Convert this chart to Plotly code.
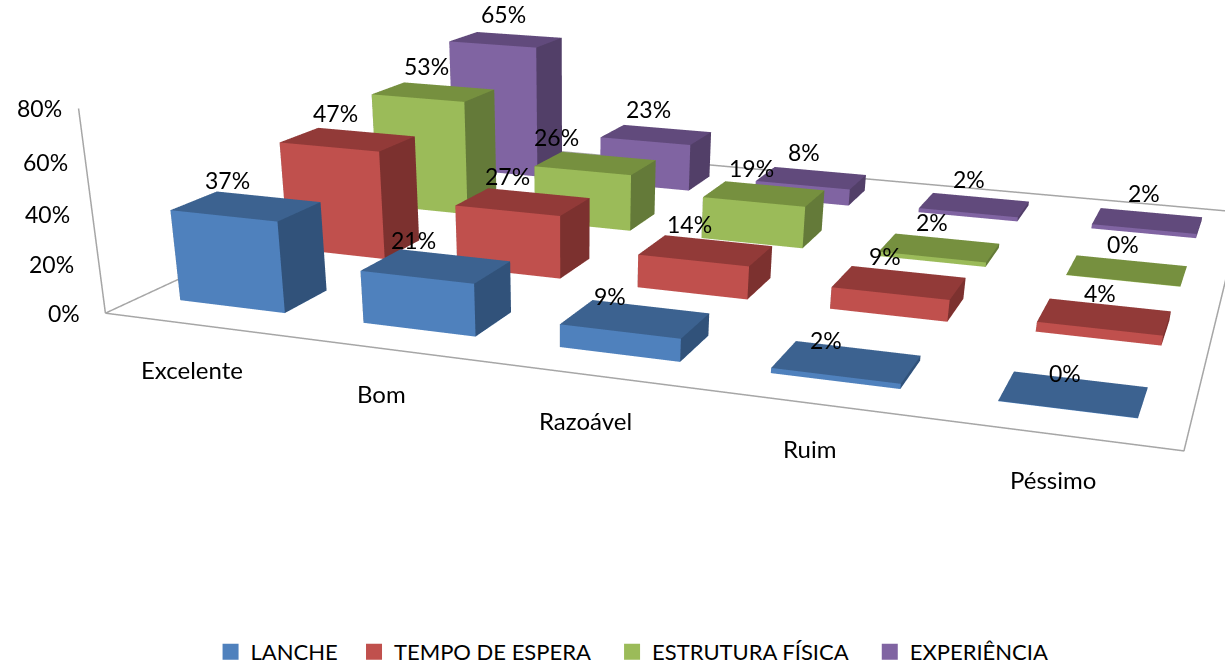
import plotly.graph_objects as go

categories = ["Excelente", "Bom", "Razoável", "Ruim", "Péssimo"]
lanche = [37, 21, 9, 2, 0]
tempo = [47, 27, 14, 9, 4]
estrutura = [53, 26, 19, 2, 0]
experiencia = [65, 23, 8, 2, 2]
series_names = ["LANCHE", "TEMPO DE ESPERA", "ESTRUTURA FÍSICA", "EXPERIÊNCIA"]
z_ticks = [0, 20, 40, 60, 80]

W, H = 1225, 1477
BW, BD = 0.579, 0.3945
label_dx = [[-19, -23, -25, -21, -9],
            [-12, -16, -16, -14, -5],
            [-7, -39, -13, -8, -4],
            [-2, -8, -7, -5, -4]]
label_dy = [[0, 0, 3, 4, 5],
            [0, 0, 0, 0, 2],
            [0, 0, 0, 0, 0],
            [0, 0, 0, 0, -2]]
tick_dx = [1, 1, 4, 8, 9]
cat_dx = [-4, -7, -9, -7, -3]
legend_pad = [2, 3, 3, 3]
FONT = "Lato"
palette = [
    ("#4F81BD", "#31527A", "#3C6290"),
    ("#C0504D", "#7C312F", "#923A38"),
    ("#9BBB59", "#647A39", "#76903F"),
    ("#8064A2", "#523F68", "#614A7C"),
]
all_series = [lanche, tempo, estrutura, experiencia]
fig = go.Figure()
anns = []
for s, vals in enumerate(all_series):
    X, Y, Z, I, J_, K, FC = [], [], [], [], [], [], []
    for c, v in enumerate(vals):
        h = max(v, 0.15)
        x0, x1 = c + 0.5 - BW / 2, c + 0.5 + BW / 2
        y0, y1 = s + 0.5 - BD / 2, s + 0.5 + BD / 2
        b = len(X)
        X += [x0, x1, x1, x0, x0, x1, x1, x0]
        Y += [y0, y0, y1, y1, y0, y0, y1, y1]
        Z += [0, 0, 0, 0, h, h, h, h]
        front, side, top = palette[s]
        faces = [
            ((0, 1, 5), front), ((0, 5, 4), front),
            ((1, 2, 6), side), ((1, 6, 5), side),
            ((4, 5, 6), top), ((4, 6, 7), top),
            ((0, 3, 7), side), ((0, 7, 4), side),
            ((3, 2, 6), side), ((3, 6, 7), side),
            ((0, 1, 2), front), ((0, 2, 3), front),
        ]
        for (a, bb, cc), col in faces:
            I.append(b + a); J_.append(b + bb); K.append(b + cc); FC.append(col)
        anns.append(dict(x=c + 0.5, y=s + 0.5, z=h, text=f"{v}%", showarrow=False,
                         font=dict(family=FONT, size=23, color="black"),
                         yanchor="bottom", yshift=10 - label_dy[s][c], xshift=label_dx[s][c]))
    fig.add_trace(go.Mesh3d(x=X, y=Y, z=Z, i=I, j=J_, k=K, facecolor=FC, flatshading=True,
                            lighting=dict(ambient=1, diffuse=0, specular=0, fresnel=0, roughness=1),
                            hoverinfo="skip", showlegend=False))

nc, ns, zmax = len(categories), len(all_series), z_ticks[-1]
fig.add_trace(go.Scatter3d(x=[0, 0, nc, nc, 0, 0], y=[0, ns, ns, 0, 0, 0], z=[0, 0, 0, 0, 0, zmax],
                           mode="lines", line=dict(color="#A6A6A6", width=3),
                           hoverinfo="skip", showlegend=False))
for t, dx in zip(z_ticks, tick_dx):
    anns.append(dict(x=0, y=0, z=t, text=f"{t}%", showarrow=False, xanchor="right", xshift=-24 + dx,
                     font=dict(family=FONT, size=23, color="black")))
for c, (name, dx) in enumerate(zip(categories, cat_dx)):
    anns.append(dict(x=c + 0.5, y=0, z=0, text=name, showarrow=False, yanchor="top", yshift=-28, xshift=dx,
                     font=dict(family=FONT, size=24, color="black")))

for name, pal, pad in zip(series_names, palette, legend_pad):
    fig.add_trace(go.Scatter(x=[None], y=[None], mode="markers", name=name + "\u00a0" * pad,
                             marker=dict(symbol="square", size=16, color=pal[0])))

fig.update_layout(
    width=W, height=H, margin=dict(l=0, r=0, t=0, b=0, autoexpand=False),
    paper_bgcolor="white", plot_bgcolor="white", hovermode=False,
    xaxis=dict(visible=False), yaxis=dict(visible=False),
    legend=dict(orientation="h", x=0.5225, xanchor="center", y=1 - 652 / H, yanchor="middle",
                font=dict(family=FONT, size=22, color="black")),
    scene=dict(
        domain=dict(x=[0, 1], y=[0, 1]), bgcolor="white", dragmode="orbit",
        aspectmode="manual", aspectratio=dict(x=2.0, y=1.7174, z=0.3759),
        xaxis=dict(visible=False, range=[0, nc]),
        yaxis=dict(visible=False, range=[0, ns]),
        zaxis=dict(visible=False, range=[0, zmax]),
        camera=dict(eye=dict(x=1.0571, y=-3.6962, z=0.8072),
                    center=dict(x=0.5817, y=-2.3661, z=0.0018),
                    up=dict(x=-0.0116, y=-0.0016, z=1),
                    projection=dict(type="perspective")),
        annotations=anns,
    ),
)
fig.write_html("out.html", config={"displayModeBar": False}, post_script=(
    "document.documentElement.style.height='100vh';document.documentElement.style.overflow='hidden';"
    "document.body.style.height='100vh';document.body.style.overflow='hidden';document.body.style.margin='0';"))
